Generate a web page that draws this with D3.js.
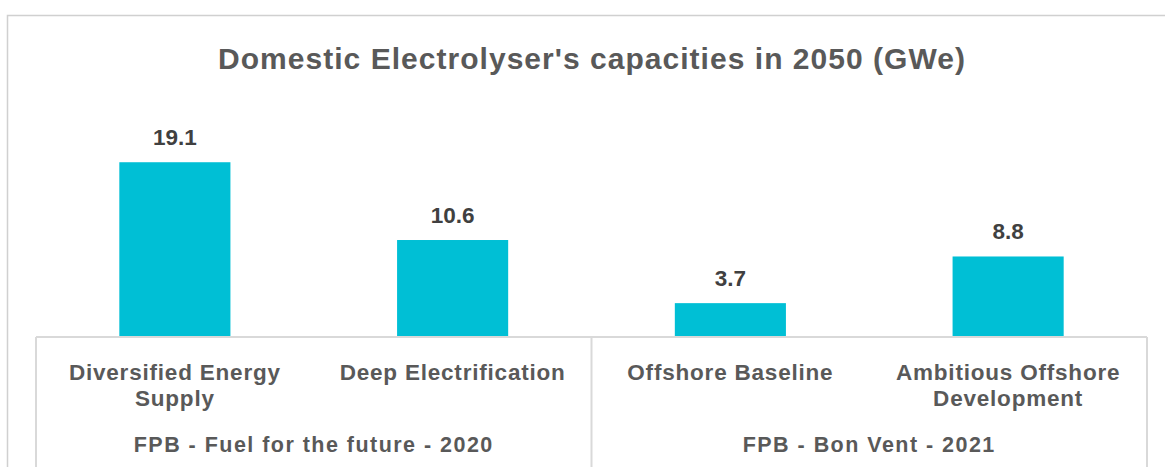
<!DOCTYPE html>
<html>
<head>
<meta charset="utf-8">
<script src="https://cdn.jsdelivr.net/npm/d3@7"></script>
<style>
  html, body { margin: 0; padding: 0; background: #ffffff; }
  svg { display: block; }
  text { font-family: "Liberation Sans", Arial, sans-serif; font-weight: bold; }
</style>
</head>
<body>
<svg id="chart" width="1165" height="467"></svg>
<script>
// ---- data ----
const titleText = "Domestic Electrolyser's capacities in 2050 (GWe)";
const categories = ["Diversified Energy Supply", "Deep Electrification", "Offshore Baseline", "Ambitious Offshore Development"];
const groups = ["FPB - Fuel for the future - 2020", "FPB - Fuel for the future - 2020", "FPB - Bon Vent - 2021", "FPB - Bon Vent - 2021"];
const values = [19.1, 10.6, 3.7, 8.8];
const groupNames = ["FPB - Fuel for the future - 2020", "FPB - Bon Vent - 2021"];

// ---- layout ----
const W = 1165, H = 467;
const plot = { left: 36, right: 1147, top: 154, bottom: 337 };
const barColor = "#00BFD5";
const textGray = "#595959";
const labelGray = "#404040";
const lineGray = "#D9D9D9";

const svg = d3.select("#chart");

// outer chart border (extends past the picture on right and bottom)
svg.append("rect")
  .attr("x", 7.5).attr("y", 15.5)
  .attr("width", W + 50).attr("height", H + 50)
  .attr("fill", "#fff").attr("stroke", "#D0D0D0").attr("stroke-width", 1.5);

const x = d3.scaleBand().domain(categories).range([plot.left, plot.right])
  .paddingInner(0.6).paddingOuter(0.3);
const xStep = (plot.right - plot.left) / categories.length;
const y = d3.scaleLinear().domain([0, 20]).range([plot.bottom, plot.top]);

// helper: letter-spacing so a string of given size reaches a target width
function spacingFor(sample, size, width) {
  const t = svg.append("text").attr("font-size", size).text(sample);
  const w = t.node().getComputedTextLength();
  t.remove();
  return (width - w) / sample.length;
}

// title
const titleSize = 30;
const titleLS = spacingFor(titleText, titleSize, 748);
svg.append("text")
  .attr("x", 592).attr("y", 68.5)
  .attr("text-anchor", "middle")
  .attr("font-size", titleSize)
  .attr("letter-spacing", titleLS)
  .attr("fill", textGray)
  .text(titleText);

// bars
svg.append("g").selectAll("rect")
  .data(values)
  .join("rect")
  .attr("x", (d, i) => x(categories[i]))
  .attr("width", x.bandwidth())
  .attr("y", d => y(d))
  .attr("height", d => y(0) - y(d))
  .attr("fill", barColor);

// data labels
const valSize = 22.5;
svg.append("g").selectAll("text")
  .data(values)
  .join("text")
  .attr("x", (d, i) => x(categories[i]) + x.bandwidth() / 2)
  .attr("y", d => y(d) - 17)
  .attr("text-anchor", "middle")
  .attr("font-size", valSize)
  .attr("fill", labelGray)
  .text(d => d3.format(".1f")(d));

// axis lines (multi-level category box)
const axisG = svg.append("g").attr("stroke", lineGray).attr("stroke-width", 2).attr("fill", "none");
axisG.append("line").attr("x1", plot.left).attr("x2", plot.right).attr("y1", plot.bottom).attr("y2", plot.bottom);
const groupBounds = [];
groupNames.forEach(g => {
  const idx = categories.map((c, i) => i).filter(i => groups[i] === g);
  const x0 = plot.left + idx[0] * xStep;
  const x1 = plot.left + (idx[idx.length - 1] + 1) * xStep;
  groupBounds.push({ name: g, x0, x1 });
});
const edges = Array.from(new Set(groupBounds.flatMap(b => [b.x0, b.x1])));
edges.forEach(e => {
  axisG.append("line").attr("x1", e).attr("x2", e).attr("y1", plot.bottom).attr("y2", H + 5);
});

// category labels (wrapped)
const catSize = 22.5;
const catLS = spacingFor("Deep Electrification", catSize, 226);
const maxW = 240;
categories.forEach((c, i) => {
  const cx = x(c) + x.bandwidth() / 2;
  const words = c.split(" ");
  const lines = [];
  let cur = [];
  const probe = svg.append("text").attr("font-size", catSize).attr("letter-spacing", catLS);
  words.forEach(w => {
    const test = cur.concat([w]).join(" ");
    probe.text(test);
    if (probe.node().getComputedTextLength() > maxW && cur.length) {
      lines.push(cur.join(" "));
      cur = [w];
    } else cur.push(w);
  });
  lines.push(cur.join(" "));
  probe.remove();
  const t = svg.append("text")
    .attr("text-anchor", "middle")
    .attr("font-size", catSize)
    .attr("letter-spacing", catLS)
    .attr("fill", textGray);
  lines.forEach((l, k) => {
    t.append("tspan").attr("x", cx).attr("y", 380 + k * 25.5).text(l);
  });
});

// group labels
const grpSize = 21.5;
const grpLS = spacingFor(groupNames[0], grpSize, 360);
groupBounds.forEach(b => {
  svg.append("text")
    .attr("x", (b.x0 + b.x1) / 2).attr("y", 451.5)
    .attr("text-anchor", "middle")
    .attr("font-size", grpSize)
    .attr("letter-spacing", grpLS)
    .attr("fill", textGray)
    .text(b.name);
});
</script>
</body>
</html>
